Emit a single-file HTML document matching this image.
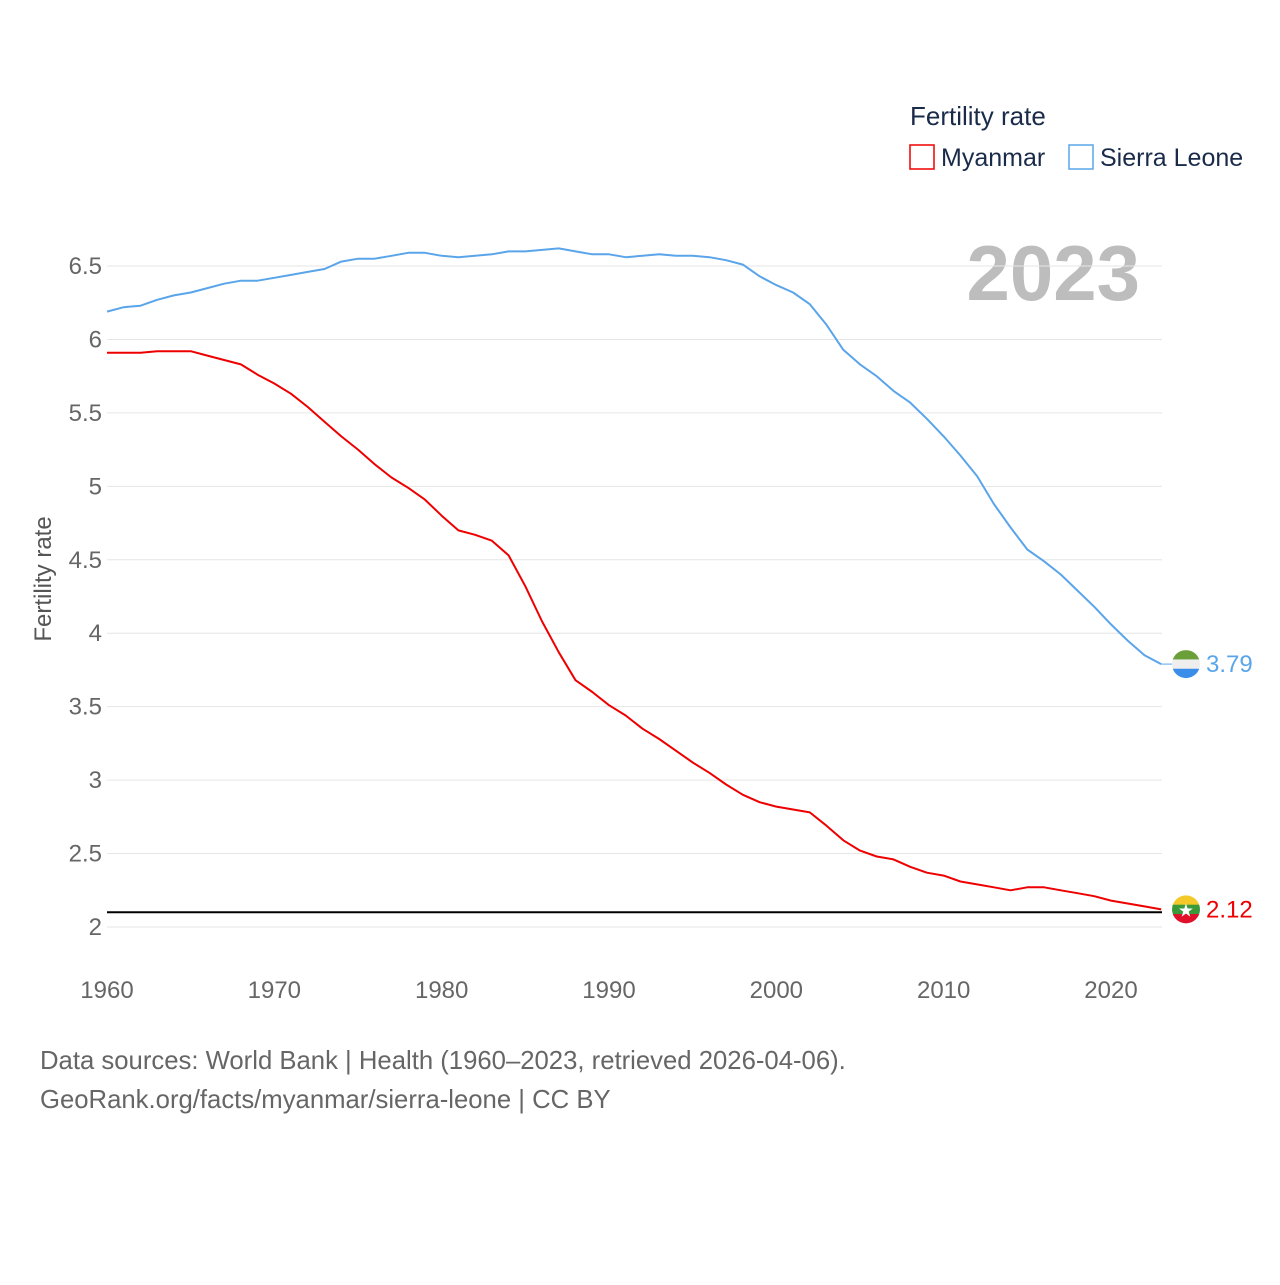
<!DOCTYPE html>
<html><head><meta charset="utf-8">
<style>
body{margin:0;background:#fff;font-family:"Liberation Sans",sans-serif;}
svg text{font-family:"Liberation Sans",sans-serif;}
</style></head>
<body>
<svg id="chart" width="1280" height="1280" viewBox="0 0 1280 1280" xmlns="http://www.w3.org/2000/svg">
<rect width="1280" height="1280" fill="#fff"/>
<text x="910" y="125" font-size="26" fill="#1a2b4a">Fertility rate</text>
<rect x="910" y="145" width="24" height="24" fill="none" stroke="#e00" stroke-width="1.5"/>
<text x="941" y="166" font-size="25" fill="#1a2b4a">Myanmar</text>
<rect x="1069" y="145" width="24" height="24" fill="none" stroke="#5aa5ea" stroke-width="1.5"/>
<text x="1100" y="166" font-size="25" fill="#1a2b4a">Sierra Leone</text>
<text x="1140" y="300" font-size="78" font-weight="bold" fill="#bdbdbd" text-anchor="end">2023</text>
<text transform="translate(51,579) rotate(-90)" font-size="24" fill="#555" text-anchor="middle">Fertility rate</text>
<g id="grid"></g><g id="lines"></g><g id="marks"></g>
<text x="40" y="1069" font-size="25.7" fill="#666">Data sources: World Bank | Health (1960–2023, retrieved 2026-04-06).</text>
<text x="40" y="1108" font-size="25.7" fill="#666">GeoRank.org/facts/myanmar/sierra-leone | CC BY</text>
</svg>
<script>
const years=[];for(let y=1960;y<=2023;y++)years.push(y);
const myanmar=[5.91,5.91,5.91,5.92,5.92,5.92,5.89,5.86,5.83,5.76,5.70,5.63,5.54,5.44,5.34,5.25,5.15,5.06,4.99,4.91,4.80,4.70,4.67,4.63,4.53,4.32,4.08,3.87,3.68,3.60,3.51,3.44,3.35,3.28,3.20,3.12,3.05,2.97,2.90,2.85,2.82,2.80,2.78,2.69,2.59,2.52,2.48,2.46,2.41,2.37,2.35,2.31,2.29,2.27,2.25,2.27,2.27,2.25,2.23,2.21,2.18,2.16,2.14,2.12];
const sierraLeone=[6.19,6.22,6.23,6.27,6.30,6.32,6.35,6.38,6.40,6.40,6.42,6.44,6.46,6.48,6.53,6.55,6.55,6.57,6.59,6.59,6.57,6.56,6.57,6.58,6.60,6.60,6.61,6.62,6.60,6.58,6.58,6.56,6.57,6.58,6.57,6.57,6.56,6.54,6.51,6.43,6.37,6.32,6.24,6.10,5.93,5.83,5.75,5.65,5.57,5.46,5.34,5.21,5.07,4.88,4.72,4.57,4.49,4.40,4.29,4.18,4.06,3.95,3.85,3.79];
const yTicks=[2,2.5,3,3.5,4,4.5,5,5.5,6,6.5];
const xTicks=[1960,1970,1980,1990,2000,2010,2020];
const replacement=2.1;
const X=v=>107+(v-1960)*(1004/60);
const Y=v=>927-(v-2)*146.88;
const NS="http://www.w3.org/2000/svg";
function mk(tag,attrs,parent,text){const e=document.createElementNS(NS,tag);for(const k in attrs)e.setAttribute(k,attrs[k]);if(text!==undefined)e.textContent=text;document.getElementById(parent).appendChild(e);return e;}
yTicks.forEach(t=>{
 const l=mk('line',{x1:107,x2:1162,y1:Y(t),y2:Y(t),stroke:'#e6e6e6','stroke-width':1},'grid');
 
 
 const tx=mk('text',{x:102,y:Y(t)+8,'font-size':24,fill:'#666','text-anchor':'end'},'grid',String(t));
 
 
});
xTicks.forEach(t=>{
 const tx=mk('text',{x:X(t),y:998,'font-size':24,fill:'#666','text-anchor':'middle'},'grid',String(t));
 
 
});
const rl=mk('line',{x1:107,x2:1162,y1:Y(replacement),y2:Y(replacement),stroke:'#000','stroke-width':2},'grid');


function pts(arr){return arr.map((v,i)=>X(years[i]).toFixed(1)+','+Y(v).toFixed(1)).join(' ');}
const l1=mk('polyline',{points:pts(sierraLeone),fill:'none',stroke:'#5aa5ea','stroke-width':2,'stroke-linejoin':'round'},'lines');


const l2=mk('polyline',{points:pts(myanmar),fill:'none',stroke:'#e00','stroke-width':2,'stroke-linejoin':'round'},'lines');


const ex=X(2023);
const sl=sierraLeone[sierraLeone.length-1], mm=myanmar[myanmar.length-1];
function flag(cy,cols,name){
 const g=mk('g',{},'marks');
 
 
 const id='c'+name;
 const cp=document.createElementNS(NS,'clipPath');cp.setAttribute('id',id);
 const c=document.createElementNS(NS,'circle');c.setAttribute('cx',1186);c.setAttribute('cy',cy);c.setAttribute('r',14);cp.appendChild(c);g.appendChild(cp);
 cols.forEach((col,i)=>{const r=document.createElementNS(NS,'rect');r.setAttribute('x',1172);r.setAttribute('y',cy-14+i*28/3);r.setAttribute('width',28);r.setAttribute('height',28/3+0.5);r.setAttribute('fill',col);r.setAttribute('clip-path','url(#'+id+')');g.appendChild(r);});
 return g;
}
const c1=mk('line',{x1:ex,x2:1172,y1:Y(sl),y2:Y(sl),stroke:'#5aa5ea','stroke-width':1},'marks');


flag(Y(sl),['#6a9f3a','#eeeeee','#3a8de8'],'sierra-leone-flag');
const t1=mk('text',{x:1206,y:Y(sl)+8,'font-size':24,fill:'#5aa5ea'},'marks',sl.toFixed(2));


flag(Y(mm),['#f5c82a','#3a9a3a','#e0102a'],'myanmar-flag');
const st=mk('text',{x:1186,y:Y(mm)+7,'font-size':18,fill:'#fff','text-anchor':'middle'},'marks','★');


const t2=mk('text',{x:1206,y:Y(mm)+8,'font-size':24,fill:'#e00'},'marks',mm.toFixed(2));


</script>
</body></html>
